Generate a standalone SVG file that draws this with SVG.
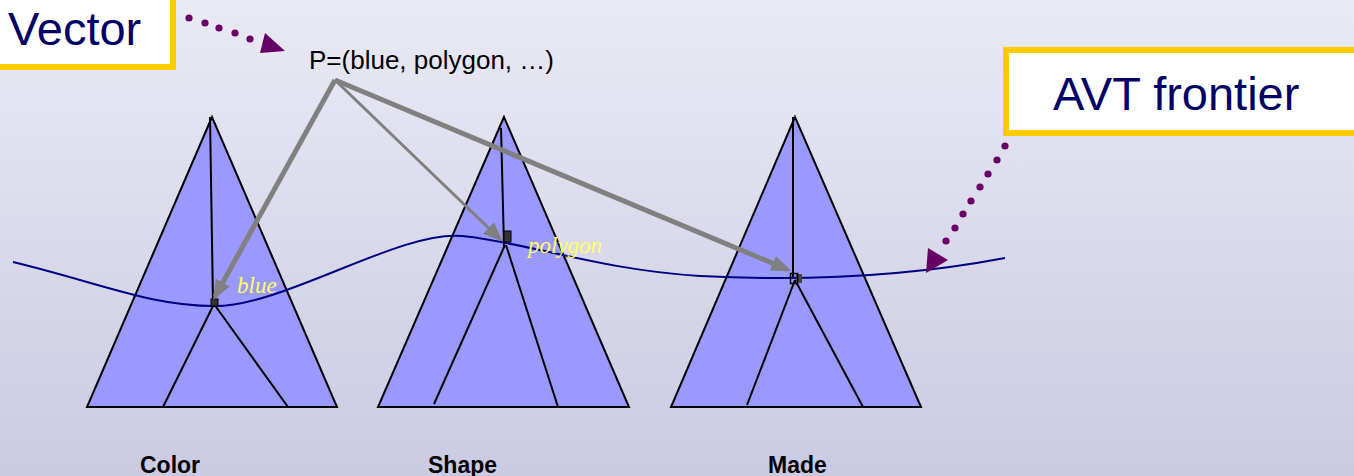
<svg xmlns="http://www.w3.org/2000/svg" width="1354" height="476" viewBox="0 0 1354 476">
<defs>
<linearGradient id="bg" x1="0" y1="0" x2="0" y2="1">
<stop offset="0" stop-color="#eaeaf5"/>
<stop offset="1" stop-color="#cacae3"/>
</linearGradient>
<marker id="gh" markerUnits="userSpaceOnUse" viewBox="0 0 20 16" refX="16" refY="8" markerWidth="20" markerHeight="16" orient="auto">
<path d="M0,0 L20,8 L0,16 z" fill="#808080"/>
</marker>
<style>
.tri{fill:#9999ff;stroke:#000;stroke-width:2;stroke-linejoin:miter}
.ln{fill:none;stroke:#000;stroke-width:2}
.gray{fill:none;stroke:#808080;marker-end:url(#gh)}
.dot{fill:#660066}
.box{fill:#fff;stroke:#ffcc00;stroke-width:6}
.big{font-family:"Liberation Sans",Arial,sans-serif;font-size:47px;fill:#000066}
.lab{font-family:"Liberation Sans",Arial,sans-serif;font-size:23px;font-weight:bold;fill:#000}
.val{font-family:"Liberation Serif","Times New Roman",serif;font-style:italic;font-size:23px;fill:#ffff66}
.node{fill:#333;stroke:#000;stroke-width:1}
</style>
</defs>
<rect x="0" y="0" width="1354" height="476" fill="url(#bg)"/>

<g id="tree-color">
<polygon class="tri" points="212,117 87,407 337,407"/>
<path class="ln" d="M210,117 L213,303 M214,304 L163,407 M214,304 L288,407"/>
<text class="lab" x="140" y="473">Color</text>
</g>
<g id="tree-shape">
<polygon class="tri" points="504,117 378,407 629,407"/>
<path class="ln" d="M501,128 L504,247 M505,245 L434,404 M506,245 L558,407"/>
<text class="lab" x="428" y="473">Shape</text>
</g>
<g id="tree-made">
<polygon class="tri" points="795,117 671,407 921,407"/>
<path class="ln" d="M793,117 L793,277 M795,280 L747,405 M795,280 L863,407"/>
<text class="lab" x="768" y="473">Made</text>
</g>

<g id="frontier">
<path d="M13,262 C100,283 150,306 215,306 C285,306 400,230 462,236 C525,242 600,270 700,276 C800,281 900,278 1005,258" fill="none" stroke="#000080" stroke-width="2"/>
</g>

<g id="nodes">
<rect class="node" x="211" y="299" width="7" height="7"/>
<rect class="node" x="504" y="231" width="7" height="11"/>
<rect x="796" y="274" width="6" height="9" fill="#444"/>
<rect x="790.5" y="273.5" width="7" height="10" fill="none" stroke="#000" stroke-width="1.5"/>
</g>

<g id="connectors">
<line class="gray" x1="335" y1="80" x2="215" y2="296.5" stroke-width="5"/>
<line class="gray" x1="335" y1="80" x2="500" y2="239" stroke-width="3"/>
<line class="gray" x1="335" y1="80" x2="787.5" y2="269.5" stroke-width="5"/>
<g id="vector-pointer">
<circle class="dot" cx="189" cy="18" r="3.6"/>
<circle class="dot" cx="205" cy="23" r="3.6"/>
<circle class="dot" cx="219" cy="28" r="3.6"/>
<circle class="dot" cx="235" cy="33" r="3.6"/>
<circle class="dot" cx="250" cy="39" r="3.6"/>
<polygon class="dot" points="285,51 265,33 260,53"/>
</g>
<g id="avt-pointer">
<circle class="dot" cx="1005" cy="146" r="3.6"/>
<circle class="dot" cx="997" cy="160" r="3.6"/>
<circle class="dot" cx="988" cy="174" r="3.6"/>
<circle class="dot" cx="980" cy="187" r="3.6"/>
<circle class="dot" cx="971" cy="201" r="3.6"/>
<circle class="dot" cx="963" cy="214" r="3.6"/>
<circle class="dot" cx="955" cy="228" r="3.6"/>
<circle class="dot" cx="946" cy="241" r="3.6"/>
<polygon class="dot" points="926,273 928,248 948,260"/>
</g>
</g>

<g id="vector-box">
<rect class="box" x="-10" y="-10" width="183" height="77"/>
<text class="big" x="8" y="45">Vector</text>
</g>
<g id="avt-box">
<rect class="box" x="1006" y="50" width="400" height="83"/>
<text class="big" x="1053" y="110">AVT frontier</text>
</g>

<g id="p-label">
<text x="309" y="69" font-family="'Liberation Sans',Arial,sans-serif" font-size="26" fill="#000">P=(blue, polygon, …)</text>
</g>
<g id="values">
<text class="val" x="237" y="293">blue</text>
<text class="val" x="528" y="253">polygon</text>
</g>
</svg>
